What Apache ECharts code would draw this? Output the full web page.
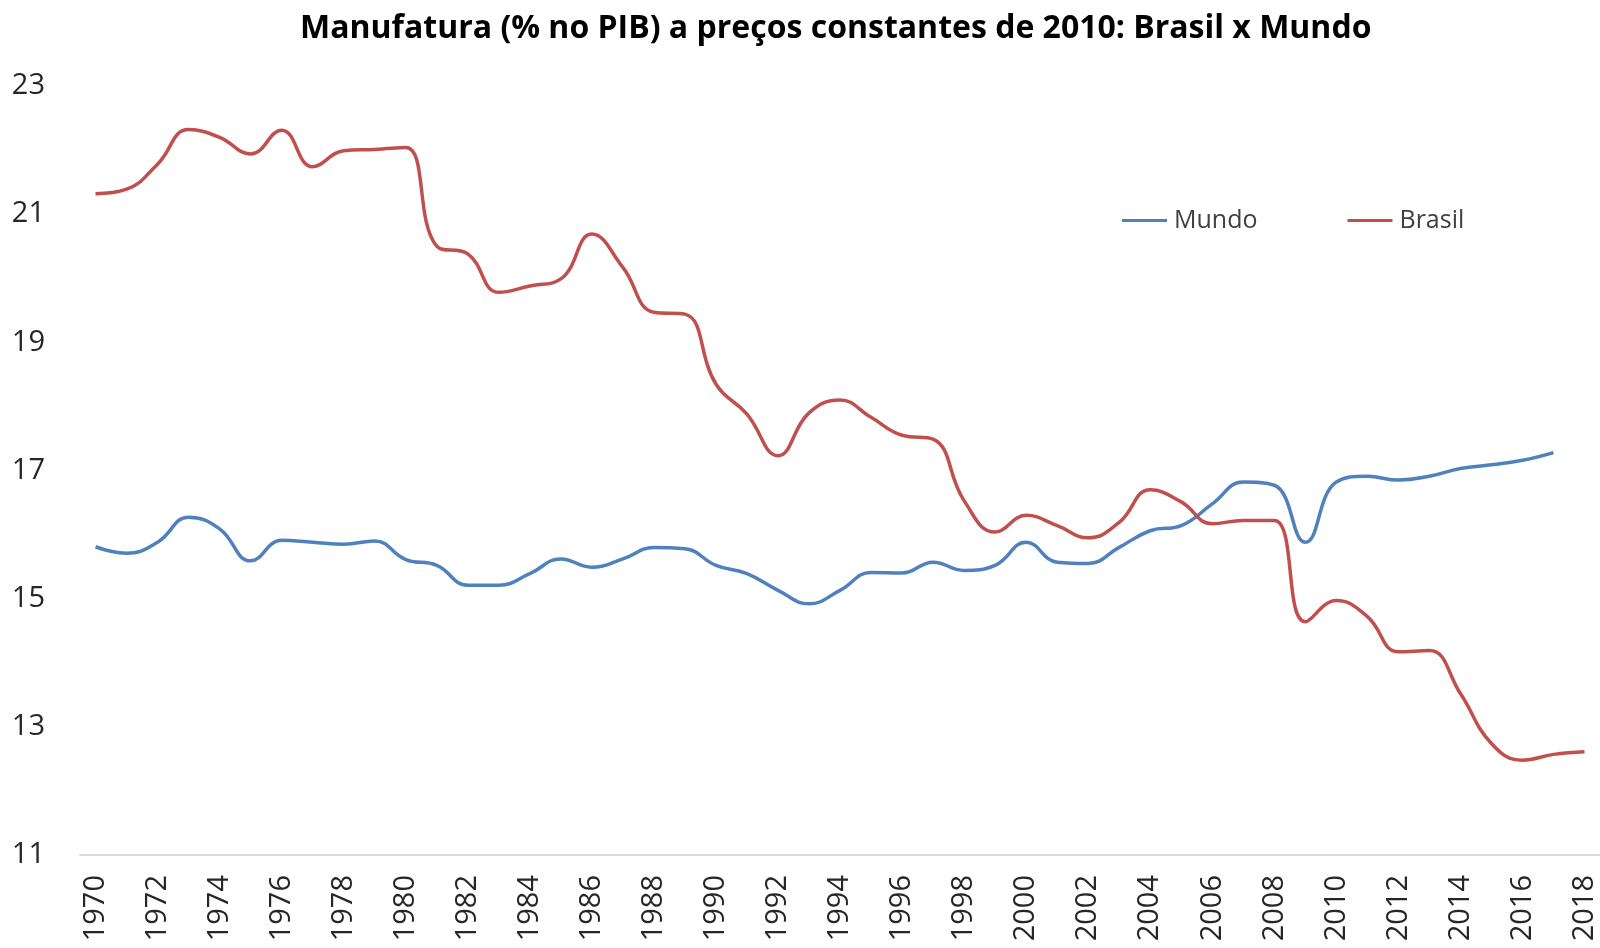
<!DOCTYPE html>
<html>
<head>
<meta charset="utf-8">
<script src="https://cdn.jsdelivr.net/npm/echarts@6/dist/echarts.min.js"></script>
<style>
html, body { margin: 0; padding: 0; background: #fff; }
#chart { width: 1600px; height: 948px; }
</style>
</head>
<body>
<div id="chart"></div>
<script>
// anos 1970..2018
const years = [];
for (let y = 1970; y <= 2018; y++) years.push(String(y));

// Manufatura (% no PIB) - Mundo, 1970..2017
const mundo = [
    15.81, 15.71, 15.88, 16.27, 16.09, 15.59, 15.91, 15.88, 15.85, 15.90,
    15.61, 15.52, 15.21, 15.21, 15.39, 15.62, 15.49, 15.62, 15.80, 15.78,
    15.52, 15.39, 15.13, 14.92, 15.13, 15.41, 15.40, 15.57, 15.44, 15.52,
    15.88, 15.57, 15.55, 15.80, 16.06, 16.14, 16.48, 16.82, 16.77, 15.88,
    16.82, 16.91, 16.85, 16.91, 17.03, 17.09, 17.16, 17.28
]

// Manufatura (% no PIB) - Brasil, 1970..2018
const brasil = [
    21.32, 21.39, 21.78, 22.32, 22.20, 21.94, 22.31, 21.74, 21.99, 22.01,
    22.04, 20.50, 20.38, 19.78, 19.88, 19.99, 20.69, 20.17, 19.47, 19.44,
    18.35, 17.88, 17.23, 17.90, 18.10, 17.83, 17.55, 17.49, 16.53, 16.04,
    16.30, 16.14, 15.95, 16.19, 16.70, 16.51, 16.17, 16.22, 16.22, 14.64,
    14.97, 14.72, 14.17, 14.19, 13.52, 12.74, 12.48, 12.57, 12.61
]

const yMin = 11, yMax = 23, yStep = 2

let myChart = echarts.init(document.getElementById('chart'))
myChart.setOption({
    animation: false,
    backgroundColor: '#ffffff',
    textStyle: { fontFamily: 'Open Sans' },
    title: {
        text: 'Manufatura (% no PIB) a preços constantes de 2010: Brasil x Mundo',
        left: 295,
        top: 8,
        textStyle: { fontFamily: 'Open Sans', fontWeight: 'bold', fontSize: 32, color: '#000' }
    },
    legend: {
        data: ['Mundo', 'Brasil'],
        left: 1117,
        top: 203,
        icon: 'rect',
        itemWidth: 45,
        itemHeight: 3,
        itemGap: 90,
        textStyle: { fontFamily: 'Open Sans', fontSize: 25, color: '#404040', padding: [0, 0, 0, 2] }
    },
    grid: {
        left: 80,
        right: 0,
        top: 86,
        bottom: 93,
        containLabel: false
    },
    xAxis: {
        type: 'category',
        data: years,
        boundaryGap: true,
        axisLine: { lineStyle: { color: '#d9d9d9', width: 2 } },
        axisTick: { show: false },
        axisLabel: {
            rotate: 90,
            interval: 1,
            margin: 20,
            fontFamily: 'Open Sans',
            fontSize: 29,
            color: '#262626'
        }
    },
    yAxis: {
        type: 'value',
        min: yMin,
        max: yMax,
        interval: yStep,
        axisLine: { show: false },
        axisTick: { show: false },
        splitLine: { show: false },
        axisLabel: {
            margin: 35,
            fontFamily: 'Open Sans',
            fontSize: 29,
            color: '#262626'
        }
    },
    series: [
        {
            name: 'Mundo',
            type: 'line',
            data: mundo,
            smooth: 0.45,
            symbol: 'none',
            lineStyle: { color: '#4f81bd', width: 3.5 },
            itemStyle: { color: '#4f81bd' }
        },
        {
            name: 'Brasil',
            type: 'line',
            data: brasil,
            smooth: 0.45,
            symbol: 'none',
            lineStyle: { color: '#c0504d', width: 3.5 },
            itemStyle: { color: '#c0504d' }
        }
    ]
})
</script>
</body>
</html>
